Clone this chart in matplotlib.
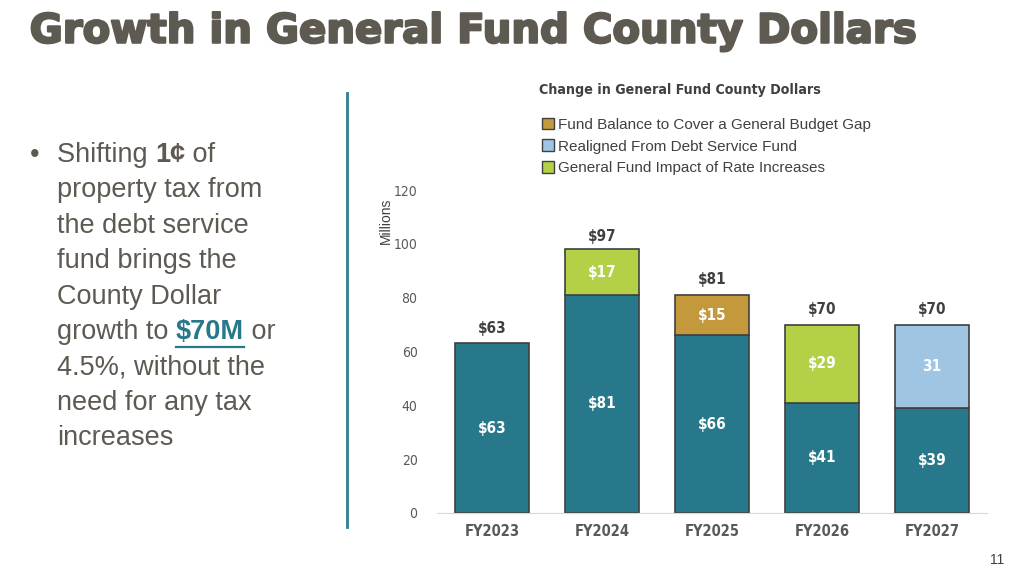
import matplotlib
matplotlib.use("Agg")
import matplotlib.pyplot as plt
import matplotlib.patheffects as pe
from matplotlib.patches import Patch

years = ["FY2023", "FY2024", "FY2025", "FY2026", "FY2027"]
base = [63, 81, 66, 41, 39]
fund_balance = [0, 0, 15, 0, 0]
realigned = [0, 0, 0, 0, 31]
rate_impact = [0, 17, 0, 29, 0]
totals = [63, 97, 81, 70, 70]
base_labels = ["$63", "$81", "$66", "$41", "$39"]
fund_balance_labels = ["", "", "$15", "", ""]
realigned_labels = ["", "", "", "", "31"]
rate_impact_labels = ["", "$17", "", "$29", ""]
total_labels = ["$63", "$97", "$81", "$70", "$70"]

TEAL = "#26788A"
GOLD = "#C4993B"
LBLUE = "#9FC5E2"
GREEN = "#B3D046"
TITLE_GREY = "#5E5A52"

# condensed face for the chart text (closest to the narrow office font)
NARROW = dict(family="DejaVu Sans", fontstretch="condensed")

fig = plt.figure(figsize=(10.24, 5.76), dpi=100)

# slide title
fig.text(0.029, 0.945, "Growth in General Fund County Dollars", fontsize=29,
         fontweight="heavy", color=TITLE_GREY, family="DejaVu Sans", va="center",
         path_effects=[pe.withStroke(linewidth=1.6, foreground=TITLE_GREY)])

# bullet text
lines = ["property tax from", "the debt service", "fund brings the",
         "County Dollar", None, "4.5%, without the", "need for any tax", "increases"]
x0 = 57 / 1024
fs = 19.5
fig.text(30 / 1024, 1 - 155 / 576, "\u2022", fontsize=fs, color=TITLE_GREY,
         family="Liberation Sans", va="center")
renderer = fig.canvas.get_renderer()


def run(parts, y):
    x = x0
    for txt, kw in parts:
        t = fig.text(x, y, txt, fontsize=fs, family="Liberation Sans", va="center", **kw)
        x += t.get_window_extent(renderer=renderer).width / fig.bbox.width


plain = dict(color=TITLE_GREY)
run([("Shifting ", plain), ("1\u00a2", dict(color=TITLE_GREY, fontweight="bold")),
     (" of", plain)], 1 - 155 / 576)
ys = [1 - (155 + 35.4 * (i + 1)) / 576 for i in range(8)]
for ln, y in zip(lines, ys):
    if ln is None:
        x = x0
        t1 = fig.text(x, y, "growth to ", fontsize=fs, family="Liberation Sans",
                      va="center", color=TITLE_GREY)
        w1 = t1.get_window_extent(renderer=renderer).width / fig.bbox.width
        t2 = fig.text(x + w1, y, "$70M", fontsize=fs, family="Liberation Sans",
                      va="center", color=TEAL, fontweight="bold")
        w2 = t2.get_window_extent(renderer=renderer).width / fig.bbox.width
        fig.add_artist(plt.Line2D([x + w1, x + w1 + w2], [y - 0.026, y - 0.026],
                                  color=TEAL, lw=1.6, transform=fig.transFigure))
        fig.text(x + w1 + w2, y, " or", fontsize=fs, family="Liberation Sans",
                 va="center", color=TITLE_GREY)
    else:
        fig.text(x0, y, ln, fontsize=fs, family="Liberation Sans", va="center",
                 color=TITLE_GREY)

# divider
fig.add_artist(plt.Line2D([347 / 1024, 347 / 1024], [1 - 93 / 576, 1 - 527 / 576],
                          color="#2F7D91", lw=2, transform=fig.transFigure))

# page number
fig.text(997 / 1024, 1 - 560 / 576, "11", fontsize=10, color="#404040",
         family="Liberation Sans", ha="center", va="center")

# chart
ax = fig.add_axes([437 / 1024, 1 - 513 / 576, 550 / 1024, 323 / 576])
pos = list(range(len(years)))
w = 0.67
edge = dict(edgecolor="#404040", linewidth=1.2)
ax.bar(pos, base, w, color=TEAL, **edge)
bottom = base
for vals, col, labs in [(fund_balance, GOLD, fund_balance_labels),
                        (realigned, LBLUE, realigned_labels),
                        (rate_impact, GREEN, rate_impact_labels)]:
    for i, v in enumerate(vals):
        if v:
            ax.bar(pos[i], v, w, bottom=bottom[i], color=col, **edge)
            ax.text(pos[i], bottom[i] + v / 2, labs[i], ha="center", va="center",
                    color="white", fontweight="bold", fontsize=11, **NARROW)
    bottom = [b + v for b, v in zip(bottom, vals)]

for i, v in enumerate(base):
    ax.text(pos[i], v / 2, base_labels[i], ha="center", va="center", color="white",
            fontweight="bold", fontsize=11, **NARROW)
for i, v in enumerate(totals):
    ax.annotate(total_labels[i], (pos[i], v), xytext=(0, 11), textcoords="offset points",
                ha="center", va="center", color="#404040", fontweight="bold",
                fontsize=11, **NARROW)

ax.set_xlim(-0.5, len(years) - 0.5)
ax.set_ylim(0, 120)
ax.set_yticks(range(0, 121, 20))
ax.set_xticks(pos)
ax.set_xticklabels(years, fontweight="bold", fontsize=10.5, color="#595959", **NARROW)
for lab in ax.get_yticklabels():
    lab.set_family("DejaVu Sans")
    lab.set_fontstretch("condensed")
ax.tick_params(axis="y", length=0, labelsize=10, labelcolor="#595959", pad=14)
ax.tick_params(axis="x", length=0, pad=8)
for s in ["top", "right", "left"]:
    ax.spines[s].set_visible(False)
ax.spines["bottom"].set_color("#D9D9D9")
ax.set_ylabel("Millions", fontsize=10, color="#404040", family="Liberation Sans")
ax.yaxis.set_label_coords(-0.08, 0.905)

fig.text(680 / 1024, 1 - 90 / 576, "Change in General Fund County Dollars",
         fontsize=10.2, fontweight="bold", color="#404040", ha="center", va="center",
         **NARROW)

handles = [Patch(facecolor=GOLD, edgecolor="#404040"),
           Patch(facecolor=LBLUE, edgecolor="#404040"),
           Patch(facecolor=GREEN, edgecolor="#404040")]
labels = ["Fund Balance to Cover a General Budget Gap", "Realigned From Debt Service Fund",
          "General Fund Impact of Rate Increases"]
fig.legend(handles, labels, loc="upper left", bbox_to_anchor=(534 / 1024, 1 - 110 / 576),
           frameon=False, handlelength=0.8, handleheight=0.8,
           handletextpad=0.3, labelspacing=0.5, borderpad=0, labelcolor="#404040",
           prop=dict(family="Liberation Sans", size=11))

fig.savefig("out.png", dpi=100)
